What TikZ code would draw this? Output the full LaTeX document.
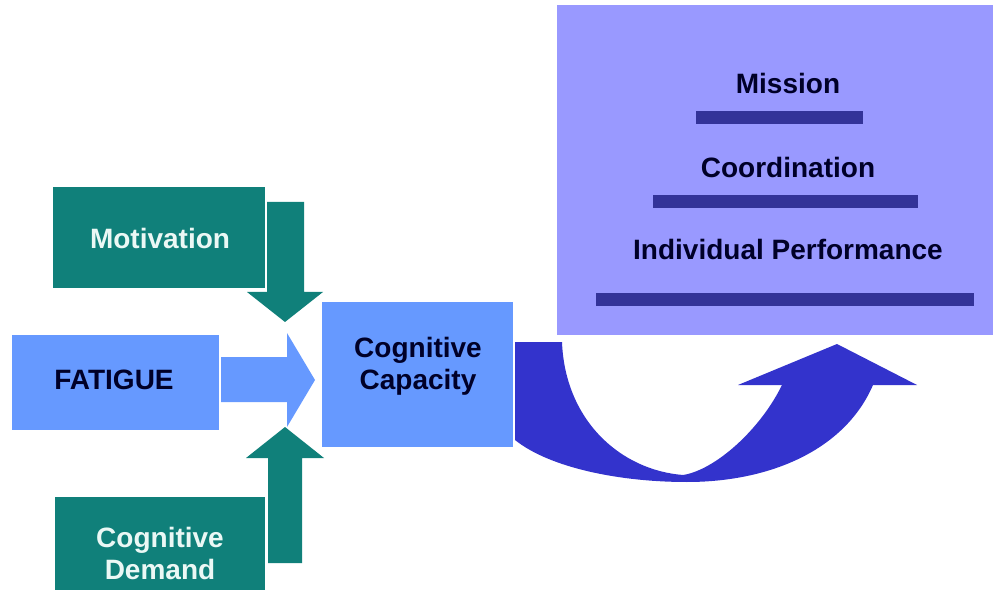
\documentclass[tikz,border=0pt]{standalone}
\usepackage{fontspec}
\setmainfont{Liberation Sans}
\usetikzlibrary{positioning}
\pgfdeclarelayer{edgelayer}
\pgfdeclarelayer{nodelayer}
\pgfsetlayers{edgelayer,nodelayer,main}
\definecolor{Teal}{RGB}{16,128,122}
\definecolor{Sky}{RGB}{102,153,255}
\definecolor{Lilac}{RGB}{153,153,255}
\definecolor{Navy}{RGB}{51,51,153}
\definecolor{Royal}{RGB}{51,51,204}
\definecolor{Ink}{RGB}{0,0,40}
\definecolor{Paper}{RGB}{235,248,245}
\tikzstyle{box}=[rectangle,inner sep=0pt,draw=none]
\tikzstyle{tealbox}=[box,fill=Teal]
\tikzstyle{skybox}=[box,fill=Sky]
\tikzstyle{lilacbox}=[box,fill=Lilac]
\tikzstyle{bar}=[box,fill=Navy,minimum height=13pt]
\tikzstyle{darktext}=[text=Ink,font={\fontsize{28}{32}\selectfont\bfseries},align=center,inner sep=0pt]
\tikzstyle{whitetext}=[darktext,text=Paper]
\tikzstyle{pt}=[inner sep=0pt,minimum size=0pt]

\begin{document}
\begin{tikzpicture}[x=1pt,y=-1pt]
	\useasboundingbox (0,0) rectangle (994,596);
	\begin{pgfonlayer}{nodelayer}
		% boxes
		\node [tealbox, minimum width=212pt, minimum height=101pt] (0) at (159, 237.5) {};
		\node [skybox, minimum width=207pt, minimum height=95pt] (1) at (115.5, 382.5) {};
		\node [skybox, minimum width=191pt, minimum height=145pt] (2) at (417.5, 374.5) {};
		\node [tealbox, minimum width=210pt, minimum height=93pt] (3) at (160, 543.5) {};
		\node [lilacbox, minimum width=436pt, minimum height=330pt] (4) at (775, 170) {};
		\node [bar, minimum width=167pt] (5) at (779.5, 117.5) {};
		\node [bar, minimum width=265pt] (6) at (785.5, 201.5) {};
		\node [bar, minimum width=378pt] (7) at (785, 299.5) {};
		% texts
		\node [whitetext] (8) at (160, 238) {Motivation};
		\node [darktext] (9) at (114, 380) {FATIGUE};
		\node [darktext] (10) at (418, 366) {Cognitive\\Capacity};
		\node [whitetext] (11) at (160, 553) {Cognitive\\Demand};
		\node [darktext] (12) at (788, 83) {Mission};
		\node [darktext] (13) at (788, 167) {Coordination};
		\node [darktext] (14) at (788, 249) {Individual Performance};
		% arrow points
		\node [pt] (20) at (267, 202) {};
		\node [pt] (21) at (304, 202) {};
		\node [pt] (22) at (304, 292) {};
		\node [pt] (23) at (323, 292) {};
		\node [pt] (24) at (285, 322) {};
		\node [pt] (25) at (247, 292) {};
		\node [pt] (26) at (267, 292) {};
		\node [pt] (30) at (221, 357) {};
		\node [pt] (31) at (287, 357) {};
		\node [pt] (32) at (287, 333) {};
		\node [pt] (33) at (315, 380) {};
		\node [pt] (34) at (287, 427) {};
		\node [pt] (35) at (287, 402) {};
		\node [pt] (36) at (221, 402) {};
		\node [pt] (40) at (268, 563) {};
		\node [pt] (41) at (302, 563) {};
		\node [pt] (42) at (302, 458) {};
		\node [pt] (43) at (324, 458) {};
		\node [pt] (44) at (285, 427) {};
		\node [pt] (45) at (246, 458) {};
		\node [pt] (46) at (268, 458) {};
		\node [pt] (50) at (515, 342) {};
		\node [pt] (51) at (562, 342) {};
		\node [pt] (52) at (683, 475) {};
		\node [pt] (53) at (782, 385) {};
		\node [pt] (54) at (738, 385) {};
		\node [pt] (55) at (837, 344) {};
		\node [pt] (56) at (917, 385) {};
		\node [pt] (57) at (873, 385) {};
		\node [pt] (58) at (687, 482) {};
		\node [pt] (59) at (515, 440) {};
	\end{pgfonlayer}
	\begin{pgfonlayer}{edgelayer}
		\fill [Teal] (20.center) -- (21.center) -- (22.center) -- (23.center) -- (24.center) -- (25.center) -- (26.center) -- cycle;
		\fill [Sky] (30.center) -- (31.center) -- (32.center) -- (33.center) -- (34.center) -- (35.center) -- (36.center) -- cycle;
		\fill [Teal] (40.center) -- (41.center) -- (42.center) -- (43.center) -- (44.center) -- (45.center) -- (46.center) -- cycle;
		\fill [Royal] (50.center) -- (51.center)
			.. controls (565, 420) and (620, 470) .. (52.center)
			.. controls (715, 470) and (760, 430) .. (53.center)
			-- (54.center) -- (55.center) -- (56.center) -- (57.center)
			.. controls (845, 450) and (770, 482) .. (58.center)
			.. controls (620, 482) and (550, 468) .. (59.center) -- cycle;
	\end{pgfonlayer}
\end{tikzpicture}
\end{document}
